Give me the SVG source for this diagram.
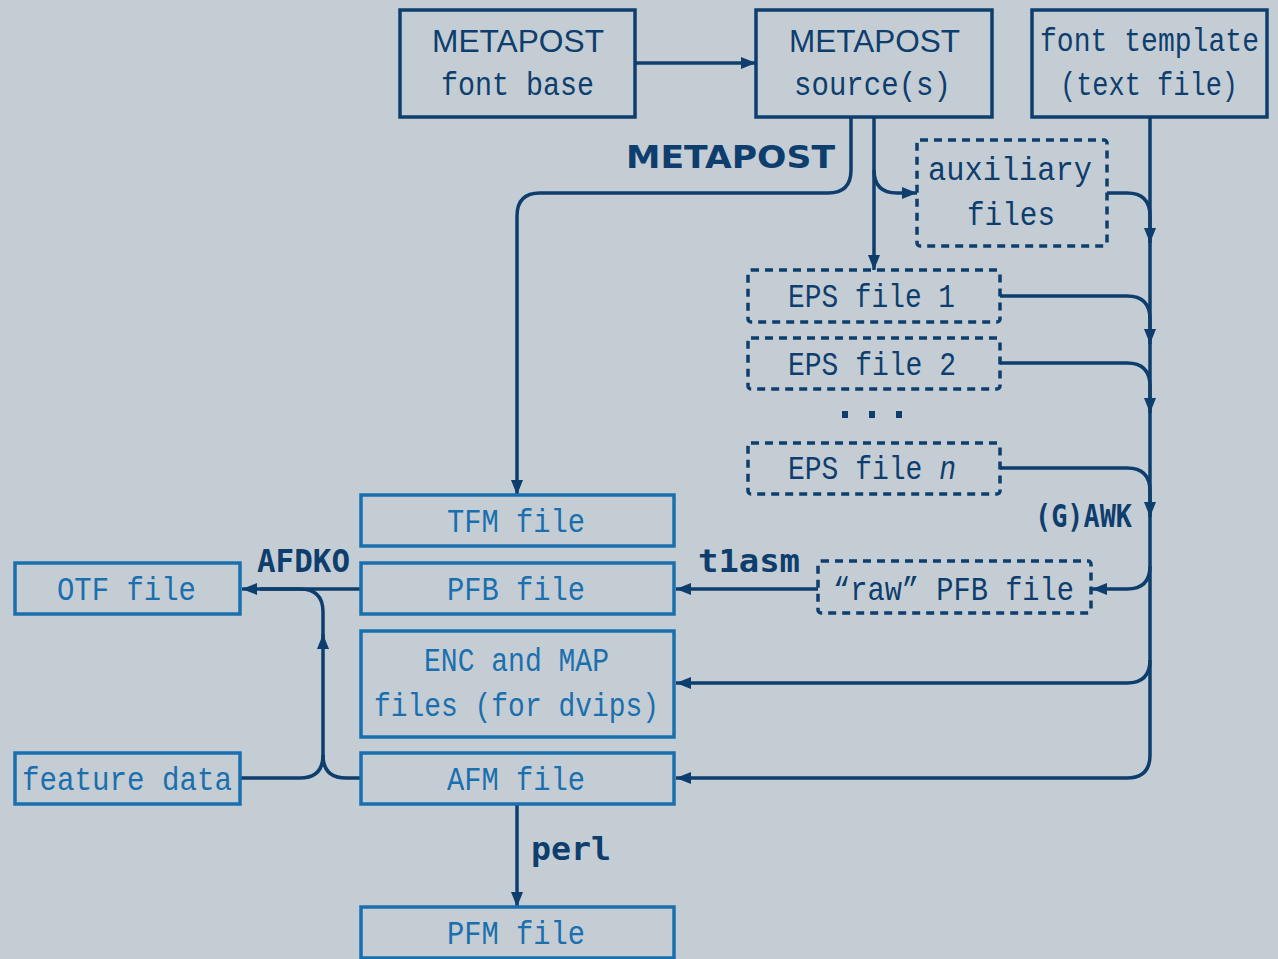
<svg xmlns="http://www.w3.org/2000/svg" width="1278" height="959" viewBox="0 0 1278 959">
<style>
.bg{fill:#c5cdd4}
.dk{fill:none;stroke:#0e3e6e;stroke-width:3.5}
.dash{fill:none;stroke:#0e3e6e;stroke-width:3.5;stroke-dasharray:8 6}
.lt{fill:none;stroke:#1a6fae;stroke-width:3.5}
.t{font-family:"Liberation Mono","DejaVu Sans Mono",monospace;font-size:34px;fill:#0e3e6e}
.tl{font-family:"Liberation Mono","DejaVu Sans Mono",monospace;font-size:34px;fill:#1a6fae}
.mp{font-family:"Liberation Sans","DejaVu Sans",sans-serif;font-size:32px;fill:#0e3e6e}
.lbl{font-family:"DejaVu Sans Mono","Liberation Mono",monospace;font-weight:bold;font-size:32px;fill:#0e3e6e}
.lblmp{font-family:"DejaVu Sans","Liberation Sans",sans-serif;font-weight:bold;font-size:32px;fill:#0e3e6e}
.c{fill:none;stroke:#0e3e6e;stroke-width:3.5}
</style>
<defs>
<marker id="ah" viewBox="0 0 16 14" markerWidth="16" markerHeight="14" refX="15" refY="7" orient="auto" markerUnits="userSpaceOnUse">
<path d="M0,1 L15,7 L0,13 z" fill="#0e3e6e"/>
</marker>
</defs>
<rect class="bg" x="0" y="0" width="1278" height="959"/>

<g id="connectors">
<path class="c" d="M635,63 H756" marker-end="url(#ah)"/>
<path class="c" d="M851,117 V170 Q851,193 828,193 H540 Q517,193 517,216 V495" marker-end="url(#ah)"/>
<path class="c" d="M874,117 V270" marker-end="url(#ah)"/>
<path class="c" d="M874,170 Q874,193 897,193 H917" marker-end="url(#ah)"/>
<path class="c" d="M1150,117 V755 Q1150,778 1127,778 H676" marker-end="url(#ah)"/>
<path class="c" d="M1107,193 H1127 Q1150,193 1150,216 V243" marker-end="url(#ah)"/>
<path class="c" d="M1000,296 H1127 Q1150,296 1150,319 V344" marker-end="url(#ah)"/>
<path class="c" d="M1000,363 H1127 Q1150,363 1150,386 V413" marker-end="url(#ah)"/>
<path class="c" d="M1000,468 H1127 Q1150,468 1150,491 V517" marker-end="url(#ah)"/>
<path class="c" d="M1150,566 Q1150,589 1127,589 H1092" marker-end="url(#ah)"/>
<path class="c" d="M1150,660 Q1150,683 1127,683 H676" marker-end="url(#ah)"/>
<path class="c" d="M818,589 H676" marker-end="url(#ah)"/>
<path class="c" d="M361,589 H242" marker-end="url(#ah)"/>
<path class="c" d="M240,778 H300 Q323,778 323,755 V634" marker-end="url(#ah)"/>
<path class="c" d="M323,640 V612 Q323,589 300,589 H260"/>
<path class="c" d="M361,778 H346 Q323,778 323,755"/>
<path class="c" d="M517,804 V907" marker-end="url(#ah)"/>
</g>

<g id="labels">
<text class="lblmp" x="626" y="168" textLength="209" lengthAdjust="spacingAndGlyphs">METAPOST</text>
<text class="lbl" x="257" y="572" textLength="93" lengthAdjust="spacingAndGlyphs">AFDKO</text>
<text class="lbl" x="698" y="572" textLength="102" lengthAdjust="spacingAndGlyphs">t1asm</text>
<text class="lbl" x="531" y="860" textLength="80" lengthAdjust="spacingAndGlyphs">perl</text>
<text class="lbl" x="1035" y="527" textLength="97" lengthAdjust="spacingAndGlyphs">(G)AWK</text>
</g>

<g id="n-fontbase">
<rect class="dk" x="400" y="10" width="235" height="107"/>
<text class="mp" x="432" y="52" textLength="172" lengthAdjust="spacingAndGlyphs">METAPOST</text>
<text class="t" x="441" y="95" textLength="153" lengthAdjust="spacingAndGlyphs">font base</text>
</g>
<g id="n-source">
<rect class="dk" x="756" y="10" width="236" height="107"/>
<text class="mp" x="789" y="52" textLength="171" lengthAdjust="spacingAndGlyphs">METAPOST</text>
<text class="t" x="794" y="95" textLength="157" lengthAdjust="spacingAndGlyphs">source(s)</text>
</g>
<g id="n-template">
<rect class="dk" x="1032" y="10" width="235" height="107"/>
<text class="t" x="1040" y="51" textLength="219" lengthAdjust="spacingAndGlyphs">font template</text>
<text class="t" x="1060" y="95" textLength="178" lengthAdjust="spacingAndGlyphs">(text file)</text>
</g>
<g id="n-aux">
<rect class="dash" x="917" y="140" width="190" height="106" rx="3"/>
<text class="t" x="928" y="180" textLength="164" lengthAdjust="spacingAndGlyphs">auxiliary</text>
<text class="t" x="967" y="225" textLength="88" lengthAdjust="spacingAndGlyphs">files</text>
</g>
<g id="n-eps1">
<rect class="dash" x="748" y="270" width="252" height="52" rx="3"/>
<text class="t" x="788" y="307" textLength="167" lengthAdjust="spacingAndGlyphs">EPS file 1</text>
</g>
<g id="n-eps2">
<rect class="dash" x="748" y="338" width="252" height="51" rx="3"/>
<text class="t" x="788" y="375" textLength="168" lengthAdjust="spacingAndGlyphs">EPS file 2</text>
</g>
<g id="n-dots">
<rect x="842" y="411" width="6" height="7" fill="#0e3e6e"/>
<rect x="869" y="411" width="6" height="7" fill="#0e3e6e"/>
<rect x="896" y="411" width="6" height="7" fill="#0e3e6e"/>
</g>
<g id="n-epsn">
<rect class="dash" x="748" y="443" width="252" height="51" rx="3"/>
<text class="t" x="788" y="479" textLength="168" lengthAdjust="spacingAndGlyphs">EPS file <tspan font-style="italic">n</tspan></text>
</g>
<g id="n-raw">
<rect class="dash" x="818" y="561" width="273" height="52" rx="3"/>
<text class="t" x="833" y="600" textLength="241" lengthAdjust="spacingAndGlyphs">“raw” PFB file</text>
</g>
<g id="n-tfm">
<rect class="lt" x="361" y="495" width="313" height="51"/>
<text class="tl" x="447" y="532" textLength="138" lengthAdjust="spacingAndGlyphs">TFM file</text>
</g>
<g id="n-pfb">
<rect class="lt" x="361" y="563" width="313" height="51"/>
<text class="tl" x="447" y="600" textLength="138" lengthAdjust="spacingAndGlyphs">PFB file</text>
</g>
<g id="n-enc">
<rect class="lt" x="361" y="631" width="313" height="106"/>
<text class="tl" x="424" y="671" textLength="185" lengthAdjust="spacingAndGlyphs">ENC and MAP</text>
<text class="tl" x="374" y="716" textLength="285" lengthAdjust="spacingAndGlyphs">files (for dvips)</text>
</g>
<g id="n-afm">
<rect class="lt" x="361" y="753" width="313" height="51"/>
<text class="tl" x="447" y="790" textLength="138" lengthAdjust="spacingAndGlyphs">AFM file</text>
</g>
<g id="n-pfm">
<rect class="lt" x="361" y="907" width="313" height="51"/>
<text class="tl" x="447" y="944" textLength="138" lengthAdjust="spacingAndGlyphs">PFM file</text>
</g>
<g id="n-otf">
<rect class="lt" x="15" y="563" width="225" height="51"/>
<text class="tl" x="57" y="600" textLength="139" lengthAdjust="spacingAndGlyphs">OTF file</text>
</g>
<g id="n-feature">
<rect class="lt" x="15" y="753" width="225" height="51"/>
<text class="tl" x="22" y="790" textLength="210" lengthAdjust="spacingAndGlyphs">feature data</text>
</g>
</svg>
